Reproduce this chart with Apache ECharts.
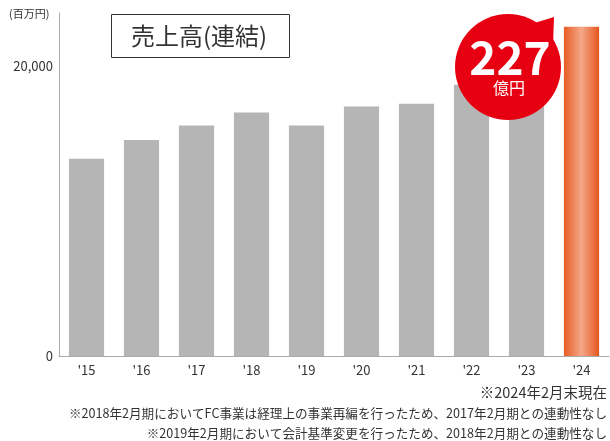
<!DOCTYPE html>
<html><head><meta charset="utf-8">
<script src="https://cdn.jsdelivr.net/npm/echarts@6/dist/echarts.min.js"></script>
<style>html,body{margin:0;padding:0;background:#fff}#c{width:610px;height:441px}</style>
</head><body><div id="c"></div>
<script>
const categories = ["'15","'16","'17","'18","'19","'20","'21","'22","'23","'24"];
const sales = [13600, 14900, 15900, 16800, 15900, 17200, 17400, 18700, 20000, 22700];
const yTickLabels = [0, 20000];
const title = "売上高(連結)";
const unit = "(百万円)";
const badgeValue = "227";
const badgeUnit = "億円";
const notes = ["※2024年2月末現在",
  "※2018年2月期においてFC事業は経理上の事業再編を行ったため、2017年2月期との連動性なし",
  "※2019年2月期において会計基準変更を行ったため、2018年2月期との連動性なし"];

const FONT = '"Noto Sans CJK JP", "Noto Sans", sans-serif';
const chart = echarts.init(document.getElementById('c'), null, {renderer:'canvas'});
const last = sales.length - 1;
const orange = new echarts.graphic.LinearGradient(0,0,1,0,[
  {offset:0,color:'#e85c24'},{offset:0.5,color:'#f4a889'},{offset:1,color:'#e4561c'}]);
chart.setOption({
  animation:false,
  grid:{left:59,right:1,top:13,bottom:85},
  xAxis:{type:'category',data:categories,
    axisLine:{lineStyle:{color:'#aaa'}},axisTick:{show:false},
    axisLabel:{color:'#333',fontSize:13,fontFamily:FONT,margin:8}},
  yAxis:{type:'value',min:0,max:23655,interval:20000,
    splitLine:{show:false},axisTick:{show:false},
    axisLine:{show:true,lineStyle:{color:'#aaa'}},
    axisLabel:{color:'#333',fontSize:13,fontFamily:FONT,margin:6,showMaxLabel:false,
      formatter:v=>yTickLabels.indexOf(v)>=0?echarts.format.addCommas(v):''}},
  series:[{type:'bar',barCategoryGap:'36%',z:2,
    data:sales.map((v,i)=>({value:v,itemStyle:{color:i===last?orange:'#b5b5b5'}}))}],
  graphic:[
    {type:'text',z:100,left:9,top:8,style:{text:unit,font:'11px '+FONT,fill:'#333'}},
    {type:'rect',z:100,shape:{x:111.5,y:14.5,width:178,height:43},style:{fill:'#fff',stroke:'#333',lineWidth:1}},
    {type:'text',z:101,x:199,y:36,style:{text:title,font:'24px '+FONT,fill:'#333',textAlign:'center',textVerticalAlign:'middle'}},
    {type:'polygon',z:100,shape:{points:[[528,25],[554,17],[553,46]]},style:{fill:'#e60012'}},
    {type:'circle',z:100,shape:{cx:508,cy:67,r:53},style:{fill:'#e60012'}},
    {type:'text',z:101,x:510,y:58,style:{text:badgeValue,font:'bold 46px '+FONT,fill:'#fff',textAlign:'center',textVerticalAlign:'middle'}},
    {type:'text',z:101,x:509,y:88,style:{text:badgeUnit,font:'16px '+FONT,fill:'#fff',textAlign:'center',textVerticalAlign:'middle'}},
    {type:'text',z:100,x:607,y:392,style:{text:notes[0],font:'14.5px '+FONT,fill:'#333',textAlign:'right',textVerticalAlign:'middle'}},
    {type:'text',z:100,x:607,y:413,style:{text:notes[1],font:'12.6px '+FONT,fill:'#333',textAlign:'right',textVerticalAlign:'middle'}},
    {type:'text',z:100,x:607,y:433,style:{text:notes[2],font:'12.6px '+FONT,fill:'#333',textAlign:'right',textVerticalAlign:'middle'}}
  ]
});
</script></body></html>
